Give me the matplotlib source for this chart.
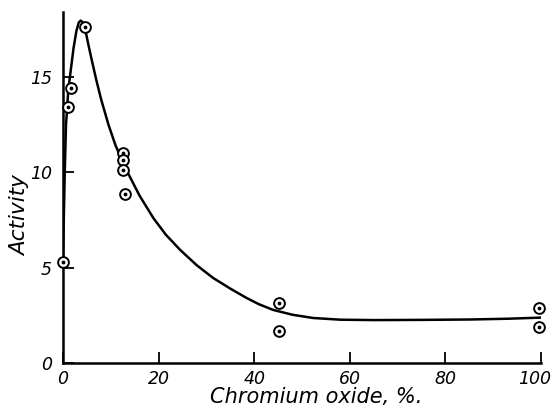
import matplotlib
matplotlib.use("Agg")
import matplotlib.pyplot as plt
import matplotlib.transforms as mtransforms

# Measured points (Chromium oxide %, Activity)
pts_x = [0.0, 1.05, 1.6, 4.7, 12.5, 12.5, 12.5, 13.0, 45.2, 45.2, 99.6, 99.6]
pts_y = [5.3, 13.4, 14.4, 17.6, 11.0, 10.65, 10.1, 8.87, 3.13, 1.68, 2.9, 1.9]

# Hand-drawn smooth curve
curve_x = [0.0, 0.2, 0.4, 0.63, 0.9, 1.1, 1.6, 2.2, 2.8, 3.3, 3.7, 4.2, 4.6, 5.3,
           6.0, 7.0, 8.0, 9.5, 11.0, 13.3, 16.0, 18.9, 21.5, 24.5, 28.0, 31.4,
           35.0, 38.4, 41.0, 44.0, 48.0, 52.3, 58.0, 65.0, 75.0, 85.0, 93.0, 100.0]
curve_y = [5.3, 8.0, 10.3, 12.5, 13.5, 14.3, 15.3, 16.5, 17.4, 17.85, 17.95, 17.85, 17.55, 16.7,
           15.9, 14.8, 13.8, 12.5, 11.4, 10.1, 8.78, 7.6, 6.73, 5.93, 5.12, 4.46,
           3.9, 3.41, 3.08, 2.78, 2.53, 2.36, 2.27, 2.25, 2.26, 2.28, 2.32, 2.38]

x_ticks = [0, 20, 40, 60, 80, 100]
y_ticks = [0, 5, 10, 15]

fig = plt.figure(figsize=(5.53, 4.08), dpi=100)
ax = fig.add_axes([63/553, 1-363/408, (541-63)/553, (363-12)/408])

ax.plot(curve_x, curve_y, color="black", lw=1.8, solid_capstyle="round",
        solid_joinstyle="round", zorder=2)
ax.scatter(pts_x, pts_y, s=60, facecolor="white", edgecolor="black", linewidths=1.4, zorder=3, clip_on=False)
ax.scatter(pts_x, pts_y, s=3, color="black", zorder=4, clip_on=False)

ax.set_xlim(0, 100)
ax.set_ylim(0, 18.4)
for s in ["top", "right"]:
    ax.spines[s].set_visible(False)
for s in ["left", "bottom"]:
    ax.spines[s].set_linewidth(1.8)

ax.set_xticks(x_ticks)
ax.set_yticks(y_ticks)
tickfont = dict(family="DejaVu Sans", style="italic", size=12.5)
ax.set_xticklabels([str(v) for v in x_ticks], **tickfont)
ax.set_yticklabels([str(v) for v in y_ticks], **tickfont)
ax.tick_params(axis="both", direction="in", length=8, width=1.3)
ax.tick_params(axis="x", pad=5)
ax.tick_params(axis="y", pad=8)

# shift the last x tick label slightly left so it fits inside the figure
last = ax.get_xticklabels()[-1]
last.set_transform(last.get_transform() + mtransforms.ScaledTranslation(-6/100, 0, fig.dpi_scale_trans))

ax.set_xlabel("Chromium oxide, %.", family="DejaVu Sans", style="italic", size=15)
ax.xaxis.set_label_coords(0.53, -0.068)
ax.set_ylabel("Activity", family="DejaVu Sans", style="italic", size=15.5)
ax.yaxis.set_label_coords(-0.069, 0.42)

fig.savefig("out.png", dpi=100)
